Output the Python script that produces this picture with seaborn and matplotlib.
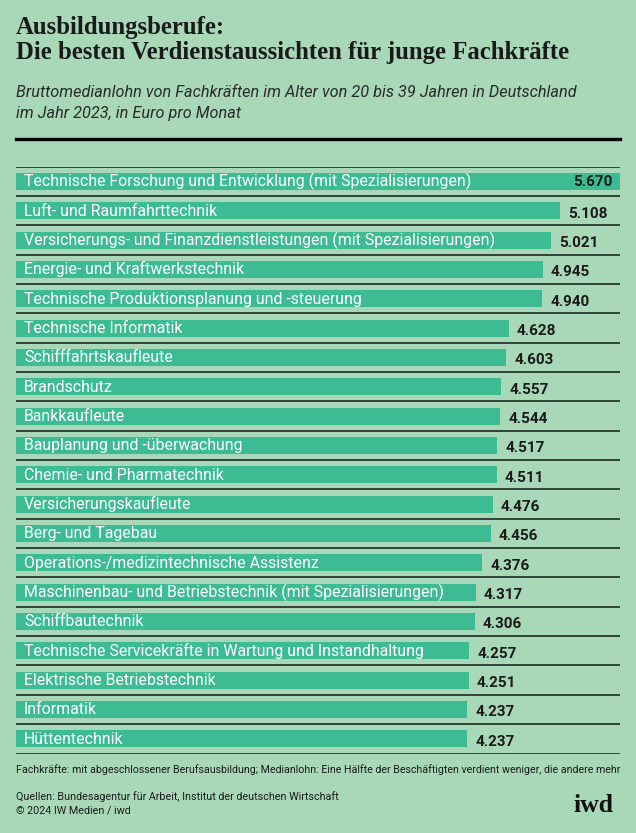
import matplotlib
matplotlib.use('Agg')
import matplotlib.pyplot as plt
import seaborn as sns
import pandas as pd

# Daten
berufe = [
    'Technische Forschung und Entwicklung (mit Spezialisierungen)',
    'Luft- und Raumfahrttechnik',
    'Versicherungs- und Finanzdienstleistungen (mit Spezialisierungen)',
    'Energie- und Kraftwerkstechnik',
    'Technische Produktionsplanung und -steuerung',
    'Technische Informatik',
    'Schifffahrtskaufleute',
    'Brandschutz',
    'Bankkaufleute',
    'Bauplanung und -überwachung',
    'Chemie- und Pharmatechnik',
    'Versicherungskaufleute',
    'Berg- und Tagebau',
    'Operations-/medizintechnische Assistenz',
    'Maschinenbau- und Betriebstechnik (mit Spezialisierungen)',
    'Schiffbautechnik',
    'Technische Servicekräfte in Wartung und Instandhaltung',
    'Elektrische Betriebstechnik',
    'Informatik',
    'Hüttentechnik',
]
lohn = [5670, 5108, 5021, 4945, 4940, 4628, 4603, 4557, 4544, 4517,
        4511, 4476, 4456, 4376, 4317, 4306, 4257, 4251, 4237, 4237]
werte_text = ['5.670', '5.108', '5.021', '4.945', '4.940', '4.628', '4.603',
              '4.557', '4.544', '4.517', '4.511', '4.476', '4.456', '4.376',
              '4.317', '4.306', '4.257', '4.251', '4.237', '4.237']

df = pd.DataFrame({'Beruf': berufe, 'Lohn': lohn})

BG = '#a8d8b8'
BAR = '#3dbb93'
LINE = '#1e2a25'
DARK = '#1a1a1a'
W, H = 636, 833

fig = plt.figure(figsize=(W / 100, H / 100), dpi=100, facecolor=BG)

def fy(y):
    return 1 - y / H

def fit(t, width_px):
    # Schriftgroesse so anpassen, dass der Text die Zielbreite hat
    r = fig.canvas.get_renderer()
    for _ in range(3):
        w = t.get_window_extent(renderer=r).width
        t.set_fontsize(t.get_fontsize() * width_px / w)

# Balken
top, bottom = 166.7, 753.5
ax = fig.add_axes([16 / W, fy(bottom), (620 - 16) / W, (bottom - top) / H])
ax.set_facecolor(BG)
sns.barplot(data=df, x='Lohn', y='Beruf', orient='h', color=BAR,
            saturation=1, width=0.58, edgecolor='none', ax=ax)
ax.set_xlim(0, 5670)
ax.set_ylim(len(berufe) - 0.5, -0.5)
ax.axis('off')
for i in range(len(berufe) + 1):
    ax.axhline(i - 0.5, color=LINE, lw=1.2, zorder=3)

labels = []
for i, (b, v, s) in enumerate(zip(berufe, lohn, werte_text)):
    t = ax.annotate(b, xy=(0, i), xytext=(8, -5), textcoords='offset pixels',
                    color='white', fontsize=11, family='Roboto',
                    va='baseline', ha='left')
    labels.append(t)
    if i == 0:
        ax.annotate(s, xy=(v, i), xytext=(-7, -5), textcoords='offset pixels',
                    color=DARK, fontsize=11, family='Roboto', weight='bold',
                    va='baseline', ha='right')
    else:
        ax.annotate(s, xy=(v, i), xytext=(8, -7), textcoords='offset pixels',
                    color=DARK, fontsize=11, family='Roboto', weight='bold',
                    va='baseline', ha='left')

fit(labels[2], 471)
for t in labels:
    t.set_fontsize(labels[2].get_fontsize())

# Titel
t1 = fig.text(16 / W, fy(34), 'Ausbildungsberufe:', family='Liberation Serif',
              weight='bold', fontsize=14, color=DARK, va='baseline')
t2 = fig.text(16 / W, fy(59), 'Die besten Verdienstaussichten für junge Fachkräfte',
              family='Liberation Serif', weight='bold', fontsize=14, color=DARK,
              va='baseline')
fit(t2, 550)
t1.set_fontsize(t2.get_fontsize())

s1 = fig.text(16 / W, fy(97), 'Bruttomedianlohn von Fachkräften im Alter von 20 bis 39 Jahren in Deutschland',
              family='Roboto', style='italic', fontsize=11, color='#2a2a2a', va='baseline')
s2 = fig.text(16 / W, fy(118), 'im Jahr 2023, in Euro pro Monat',
              family='Roboto', style='italic', fontsize=11, color='#2a2a2a', va='baseline')
fit(s1, 562)
s2.set_fontsize(s1.get_fontsize())

fig.add_artist(plt.Line2D([16 / W, 620 / W], [fy(139), fy(139)], color='black', lw=2.4))

# Fussnoten
f1 = fig.text(16 / W, fy(773), 'Fachkräfte: mit abgeschlossener Berufsausbildung; Medianlohn: Eine Hälfte der Beschäftigten verdient weniger, die andere mehr',
              family='Roboto', fontsize=8, color=DARK, va='baseline')
fit(f1, 604)
q1 = fig.text(16 / W, fy(800), 'Quellen: Bundesagentur für Arbeit, Institut der deutschen Wirtschaft',
              family='Roboto', fontsize=8, color=DARK, va='baseline')
fit(q1, 321)
q2 = fig.text(16 / W, fy(814), '© 2024 IW Medien / iwd',
              family='Roboto', fontsize=q1.get_fontsize(), color=DARK, va='baseline')

logo = fig.text(613 / W, fy(812), 'iwd', family='Liberation Serif', weight='bold',
                fontsize=18, color='#111111', ha='right', va='baseline')
fit(logo, 40)

fig.savefig('out.png', dpi=100, facecolor=BG)
